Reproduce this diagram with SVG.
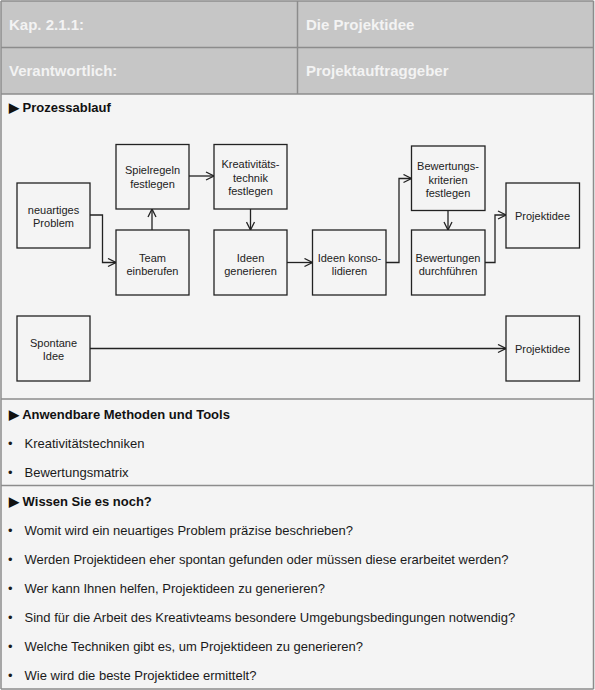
<svg xmlns="http://www.w3.org/2000/svg" width="595" height="690" viewBox="0 0 595 690">
<style>
.hdr{font-family:"Liberation Sans",Arial,sans-serif;font-size:15px;font-weight:bold;fill:#f3f3f3}
.sec{font-family:"Liberation Sans",Arial,sans-serif;font-size:13px;font-weight:bold;fill:#111}
.li{font-family:"Liberation Sans",Arial,sans-serif;font-size:13px;fill:#1a1a1a}
.nt{font-family:"Liberation Sans",Arial,sans-serif;font-size:11px;fill:#222;text-anchor:middle}
.box{fill:#f4f4f4;stroke:#222;stroke-width:1.3}
.con{fill:none;stroke:#222;stroke-width:1.3}
.div{stroke:#8c8c8c;stroke-width:1.5}
</style>
<defs>
<marker id="arr" viewBox="0 0 10 10" refX="9" refY="5" markerWidth="10" markerHeight="10" markerUnits="userSpaceOnUse" orient="auto">
<path d="M1,1 L9,5 L1,9" fill="none" stroke="#222" stroke-width="1.3"/>
</marker>
</defs>
<rect x="0" y="0" width="595" height="690" fill="#f4f4f4"/>
<g id="header">
<rect x="1" y="1" width="592.5" height="93" fill="#c6c6c6"/>
<line class="div" x1="1" y1="1" x2="593.5" y2="1"/>
<line class="div" x1="1" y1="47.5" x2="593.5" y2="47.5"/>
<line class="div" x1="1" y1="94" x2="593.5" y2="94"/>
<line class="div" x1="297.5" y1="1" x2="297.5" y2="94"/>
<text class="hdr" x="9" y="29.5">Kap. 2.1.1:</text>
<text class="hdr" x="306" y="29.5">Die Projektidee</text>
<text class="hdr" x="9" y="76">Verantwortlich:</text>
<text class="hdr" x="306" y="76">Projektauftraggeber</text>
</g>
<g id="frame">
<line class="div" x1="1" y1="1" x2="1" y2="689"/>
<line class="div" x1="593.5" y1="1" x2="593.5" y2="689"/>
<line class="div" x1="1" y1="689" x2="593.5" y2="689"/>
<line class="div" x1="1" y1="399" x2="593.5" y2="399"/>
<line class="div" x1="1" y1="485.5" x2="593.5" y2="485.5"/>
</g>
<g id="sec-prozess">
<text class="sec" x="9" y="112">▶ Prozessablauf</text>
</g>
<g id="connectors">
<polyline class="con" points="90,215 102.5,215 102.5,262.5 116,262.5" marker-end="url(#arr)"/>
<line class="con" x1="152" y1="230" x2="152" y2="209" marker-end="url(#arr)"/>
<line class="con" x1="189" y1="176" x2="214" y2="176" marker-end="url(#arr)"/>
<line class="con" x1="250.5" y1="209" x2="250.5" y2="230" marker-end="url(#arr)"/>
<line class="con" x1="287" y1="262.5" x2="312.5" y2="262.5" marker-end="url(#arr)"/>
<polyline class="con" points="386,262.5 399,262.5 399,178.5 411.5,178.5" marker-end="url(#arr)"/>
<line class="con" x1="448" y1="211" x2="448" y2="230" marker-end="url(#arr)"/>
<polyline class="con" points="485,262.5 495,262.5 495,215 506,215" marker-end="url(#arr)"/>
<line class="con" x1="90" y1="348.5" x2="506" y2="348.5" marker-end="url(#arr)"/>
</g>
<g id="n-problem">
<rect class="box" x="17" y="183" width="73" height="65"/>
<text class="nt" x="53.5" y="213.5">neuartiges</text>
<text class="nt" x="53.5" y="227">Problem</text>
</g>
<g id="n-spielregeln">
<rect class="box" x="116" y="144.5" width="73" height="64.5"/>
<text class="nt" x="152.5" y="174">Spielregeln</text>
<text class="nt" x="152.5" y="188">festlegen</text>
</g>
<g id="n-team">
<rect class="box" x="116" y="230" width="73" height="65"/>
<text class="nt" x="152.5" y="261.5">Team</text>
<text class="nt" x="152.5" y="274.5">einberufen</text>
</g>
<g id="n-kreativ">
<rect class="box" x="214" y="144.5" width="73" height="64.5"/>
<text class="nt" x="250.5" y="168">Kreativitäts-</text>
<text class="nt" x="250.5" y="181.5">technik</text>
<text class="nt" x="250.5" y="195">festlegen</text>
</g>
<g id="n-ideen-gen">
<rect class="box" x="214" y="230" width="73" height="65"/>
<text class="nt" x="250.5" y="261.5">Ideen</text>
<text class="nt" x="250.5" y="274.5">generieren</text>
</g>
<g id="n-ideen-kons">
<rect class="box" x="312.5" y="230" width="73.5" height="65"/>
<text class="nt" x="349.5" y="261.5">Ideen konso-</text>
<text class="nt" x="349.5" y="274.5">lidieren</text>
</g>
<g id="n-kriterien">
<rect class="box" x="411.5" y="146" width="73.5" height="64.5"/>
<text class="nt" x="448" y="170">Bewertungs-</text>
<text class="nt" x="448" y="183.5">kriterien</text>
<text class="nt" x="448" y="196.5">festlegen</text>
</g>
<g id="n-bewertungen">
<rect class="box" x="411.5" y="230" width="73.5" height="65"/>
<text class="nt" x="448" y="261.5">Bewertungen</text>
<text class="nt" x="448" y="274.5">durchführen</text>
</g>
<g id="n-projektidee1">
<rect class="box" x="506" y="183" width="73.5" height="65"/>
<text class="nt" x="542.5" y="219.5">Projektidee</text>
</g>
<g id="n-spontan">
<rect class="box" x="17" y="316" width="73" height="65"/>
<text class="nt" x="53.5" y="347">Spontane</text>
<text class="nt" x="53.5" y="359.5">Idee</text>
</g>
<g id="n-projektidee2">
<rect class="box" x="506" y="316" width="73.5" height="65"/>
<text class="nt" x="542.5" y="353">Projektidee</text>
</g>
<g id="sec-methoden">
<text class="sec" x="9" y="419">▶ Anwendbare Methoden und Tools</text>
<text class="li" x="8" y="448">•</text><text class="li" x="24.5" y="448">Kreativitätstechniken</text>
<text class="li" x="8" y="477">•</text><text class="li" x="24.5" y="477">Bewertungsmatrix</text>
</g>
<g id="sec-wissen">
<text class="sec" x="9" y="506">▶ Wissen Sie es noch?</text>
<text class="li" x="8" y="535">•</text><text class="li" x="24.5" y="535">Womit wird ein neuartiges Problem präzise beschrieben?</text>
<text class="li" x="8" y="564">•</text><text class="li" x="24.5" y="564">Werden Projektideen eher spontan gefunden oder müssen diese erarbeitet werden?</text>
<text class="li" x="8" y="593">•</text><text class="li" x="24.5" y="593">Wer kann Ihnen helfen, Projektideen zu generieren?</text>
<text class="li" x="8" y="622">•</text><text class="li" x="24.5" y="622">Sind für die Arbeit des Kreativteams besondere Umgebungsbedingungen notwendig?</text>
<text class="li" x="8" y="651">•</text><text class="li" x="24.5" y="651">Welche Techniken gibt es, um Projektideen zu generieren?</text>
<text class="li" x="8" y="680">•</text><text class="li" x="24.5" y="680">Wie wird die beste Projektidee ermittelt?</text>
</g>
</svg>
